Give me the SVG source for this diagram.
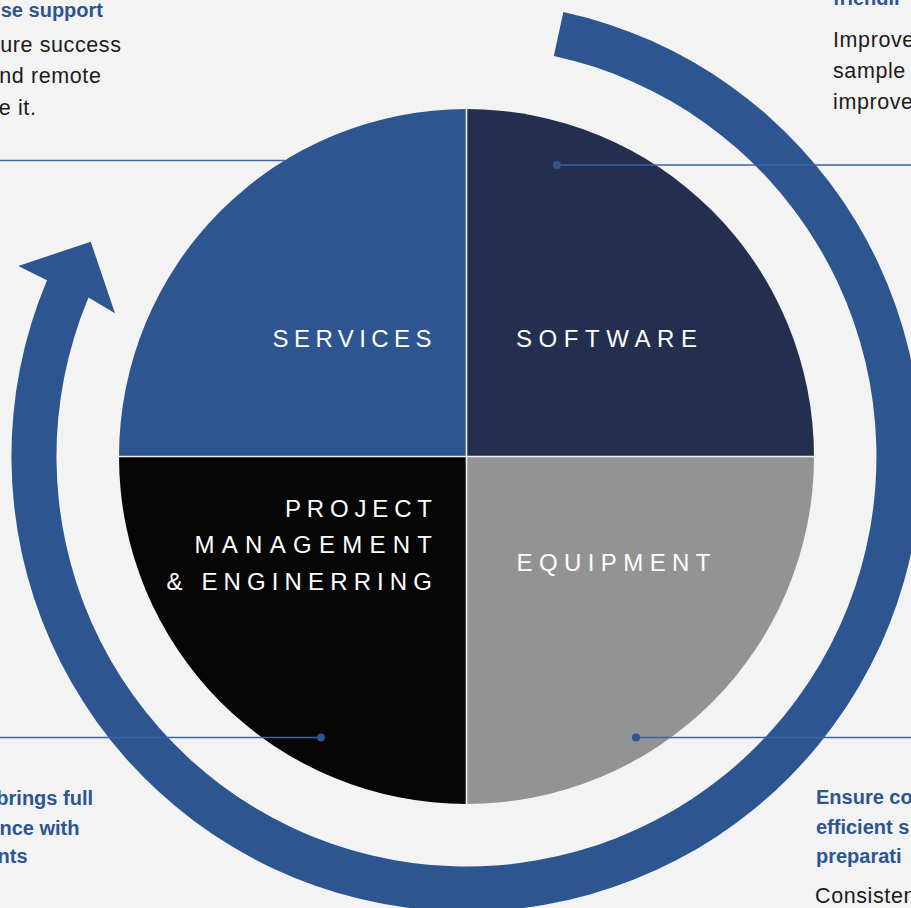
<svg xmlns="http://www.w3.org/2000/svg" width="911" height="908" viewBox="0 0 911 908">
<defs>
<style>
.bg{fill:#f3f3f3}
.ring{fill:#2d5590}
.lbl{font-family:"Liberation Sans",Arial,sans-serif;font-size:24px;fill:#ffffff}
.hd{font-family:"Liberation Sans",Arial,sans-serif;font-size:20px;font-weight:bold;fill:#2d5590}
.bd{font-family:"Liberation Sans",Arial,sans-serif;font-size:21.5px;letter-spacing:0.6px;fill:#1c1c1c}
.cl{stroke:#3d64a3;stroke-width:1.5;fill:none}
.dot{fill:#2d5590}
.sep{stroke:#eef0f3;stroke-width:1.6}
</style>
</defs>
<rect class="bg" x="0" y="0" width="911" height="908"/>
<path id="cycle-arrow" class="ring" d="M 563.4 12.0 A 455 455 0 1 1 47.0 280.2 L 18.3 266 L 90.7 241.7 L 115 313.3 L 88.5 297.6 A 410 410 0 1 0 553.8 55.9 Z"/>
<g id="services">
<path d="M466.5 456.5 L119 456.5 A347.5 347.5 0 0 1 466.5 109 Z" fill="#2d5590"/>
<text class="lbl" x="272.5" y="346.5" textLength="159" lengthAdjust="spacing">SERVICES</text>
</g>
<g id="software">
<path d="M466.5 456.5 L466.5 109 A347.5 347.5 0 0 1 814 456.5 Z" fill="#242f50"/>
<text class="lbl" x="516" y="346.5" textLength="181" lengthAdjust="spacing">SOFTWARE</text>
</g>
<g id="equipment">
<path d="M466.5 456.5 L814 456.5 A347.5 347.5 0 0 1 466.5 804 Z" fill="#939394"/>
<text class="lbl" x="516.5" y="571" textLength="194" lengthAdjust="spacing">EQUIPMENT</text>
</g>
<g id="project">
<path d="M466.5 456.5 L466.5 804 A347.5 347.5 0 0 1 119 456.5 Z" fill="#060606"/>
<text class="lbl" x="285" y="516.5" textLength="147" lengthAdjust="spacing">PROJECT</text>
<text class="lbl" x="194.5" y="553" textLength="237.5" lengthAdjust="spacing">MANAGEMENT</text>
<text class="lbl" x="166.5" y="589.5" textLength="265.5" lengthAdjust="spacing">&amp; ENGINERRING</text>
</g>
<line class="sep" x1="466.5" y1="109" x2="466.5" y2="804"/>
<line class="sep" x1="119" y1="456.5" x2="814" y2="456.5"/>
<g id="connectors">
<line class="cl" x1="0" y1="160.5" x2="285" y2="160.5"/>
<line class="cl" x1="557" y1="165" x2="911" y2="165"/>
<circle class="dot" cx="557" cy="165" r="4"/>
<line class="cl" x1="0" y1="737.5" x2="321" y2="737.5"/>
<circle class="dot" cx="321" cy="737.5" r="4"/>
<line class="cl" x1="636" y1="737.5" x2="911" y2="737.5"/>
<circle class="dot" cx="636" cy="737.5" r="4"/>
</g>
<g id="note-services">
<text class="hd" x="103" y="17" text-anchor="end">se support</text>
<text class="bd" x="121.5" y="51.5" text-anchor="end">ure success</text>
<text class="bd" x="101.5" y="82.5" text-anchor="end">nd remote</text>
<text class="bd" x="36.5" y="114.5" text-anchor="end">e it.</text>
</g>
<g id="note-software">
<text class="hd" x="833" y="5">friendli</text>
<text class="bd" x="833" y="47">Improve</text>
<text class="bd" x="833" y="78">sample</text>
<text class="bd" x="833" y="109">improve</text>
</g>
<g id="note-project">
<text class="hd" x="93" y="805" text-anchor="end">brings full</text>
<text class="hd" x="79.5" y="835" text-anchor="end">nce with</text>
<text class="hd" x="27.5" y="863" text-anchor="end">nts</text>
</g>
<g id="note-equipment">
<text class="hd" x="816" y="804">Ensure co</text>
<text class="hd" x="816" y="834">efficient s</text>
<text class="hd" x="816" y="863">preparati</text>
<text class="bd" x="815" y="903">Consisten</text>
</g>
</svg>
